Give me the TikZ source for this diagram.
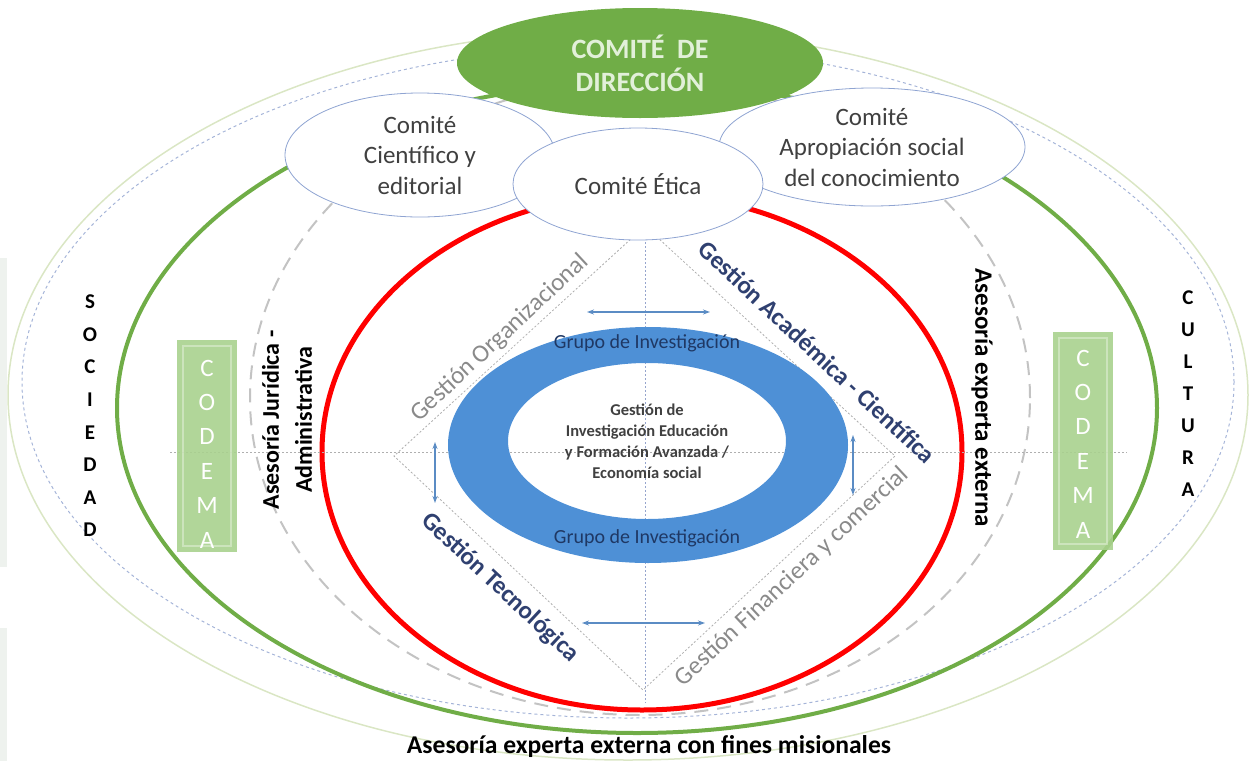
\documentclass[tikz,border=0pt]{standalone}
\usepackage{fontspec}
\setmainfont{Carlito}
\usetikzlibrary{shapes.geometric,arrows.meta}
\definecolor{dirgreen}{RGB}{112,173,71}
\definecolor{dirtext}{RGB}{226,240,217}
\definecolor{thickgreen}{RGB}{112,173,71}
\definecolor{faintgreen}{RGB}{218,230,196}
\definecolor{dotblue}{RGB}{165,180,216}
\definecolor{dashgray}{RGB}{195,195,195}
\definecolor{ringblue}{RGB}{78,144,214}
\definecolor{navy}{RGB}{47,64,112}
\definecolor{grupotext}{RGB}{31,56,100}
\definecolor{txtgray}{RGB}{64,64,64}
\definecolor{labgray}{RGB}{138,138,138}
\definecolor{arrowblue}{RGB}{91,140,196}
\definecolor{codemagreen}{RGB}{169,209,142}
\definecolor{comborder}{RGB}{143,164,210}
\definecolor{guidegray}{RGB}{175,175,175}
\definecolor{guideblue}{RGB}{150,165,205}
\definecolor{edgegray}{RGB}{238,242,238}
\tikzset{
  comnode/.style={ellipse, draw=comborder, line width=0.8pt, fill=white, inner sep=0pt,
    align=center, text=txtgray, font=\fontsize{25}{30.5}\selectfont},
  diaglab/.style={font=\fontsize{25}{30}\selectfont, inner sep=0pt},
  navylab/.style={diaglab, text=navy, font=\bfseries\fontsize{25}{30}\selectfont},
  graylab/.style={diaglab, text=labgray},
  codemabox/.style={rectangle, fill=codemagreen, fill opacity=0.9, minimum width=60pt, inner sep=0pt},
  codemaletters/.style={align=center, text=white, font=\fontsize{25}{34.4}\selectfont, inner sep=0pt},
  stacklet/.style={align=center, text=black, font=\bfseries\fontsize{21}{32.6}\selectfont, inner sep=0pt},
  biarrow/.style={arrowblue, line width=1.3pt, {Stealth[length=7pt,width=5pt]}-{Stealth[length=7pt,width=5pt]}},
  guideh/.style={guidegray, line width=0.8pt, dash pattern=on 2pt off 2pt},
  guidev/.style={guideblue, line width=0.8pt, dash pattern=on 2pt off 2pt},
  diamline/.style={guidegray, line width=0.8pt, dash pattern=on 2pt off 2pt}
}
\begin{document}
\begin{tikzpicture}[x=1pt,y=-1pt]
\useasboundingbox (0,0) rectangle (1251,761);
% left edge strips
\fill[edgegray] (0,258) rectangle (7,567);
\fill[edgegray] (0,628) rectangle (7,761);
% concentric ellipses
\draw[faintgreen, line width=1.5pt] (628,395) ellipse [x radius=620pt, y radius=365pt];
\draw[dotblue, line width=1pt, dash pattern=on 3pt off 3pt] (628,382) ellipse [x radius=606pt, y radius=336pt];
\draw[thickgreen, line width=4pt] (637,408) ellipse [x radius=520pt, y radius=325pt];
\draw[dashgray, line width=2pt, dash pattern=on 14pt off 9pt] (640,398) ellipse [x radius=390pt, y radius=317pt];
\draw[red, line width=5pt] (642,452) ellipse [x radius=320pt, y radius=258pt];
% guide lines
\coordinate (hl) at (170,452);
\coordinate (hr) at (1127,452);
\coordinate (vt) at (645,226);
\coordinate (vb) at (645,703);
\draw[guideh] (hl) -- (hr);
\draw[guidev] (vt) -- (vb);
% diamond
\coordinate (dT) at (645,226);
\coordinate (dR) at (895,456);
\coordinate (dB) at (643,690);
\coordinate (dL) at (394,456);
\draw[diamline] (dT) -- (dR) -- (dB) -- (dL) -- cycle;
% blue ring
\fill[ringblue, even odd rule] (648,445) ellipse [x radius=200pt, y radius=118pt]
  (647,441) ellipse [x radius=139pt, y radius=78pt];
\node[text=grupotext, font=\fontsize{20}{24}\selectfont, inner sep=0pt] (grupoT) at (647,343) {Grupo de Investigación};
\node[text=grupotext, font=\fontsize{20}{24}\selectfont, inner sep=0pt] (grupoB) at (647,538) {Grupo de Investigación};
\node[align=center, text=txtgray, font=\bfseries\fontsize{16.5}{21}\selectfont, inner sep=0pt] (core) at (647,441)
  {Gestión de\\Investigación Educación\\y Formación Avanzada /\\Economía social};
% arrows
\coordinate (aT1) at (587,312); \coordinate (aT2) at (710,312);
\coordinate (aB1) at (582,623); \coordinate (aB2) at (705,623);
\coordinate (aL1) at (435,442); \coordinate (aL2) at (435,503);
\coordinate (aR1) at (853,435); \coordinate (aR2) at (853,495);
\draw[biarrow] (aT1) -- (aT2);
\draw[biarrow] (aB1) -- (aB2);
\draw[biarrow] (aL1) -- (aL2);
\draw[biarrow] (aR1) -- (aR2);
% diagonal labels
\node[graylab, rotate=43] (gorg) at (500,338) {Gestión Organizacional};
\node[navylab, rotate=-43] (gaca) at (817,352) {Gestión Académica - Científica};
\node[navylab, rotate=-43] (gtec) at (500,588) {Gestión Tecnológica};
\node[graylab, rotate=43] (gfin) at (792,577) {Gestión Financiera y comercial};
% CODEMA boxes
\node[codemabox, minimum height=212pt] (codL) at (207,446) {};
\draw[white, opacity=0.35, line width=1.5pt] ([xshift=6pt,yshift=-6pt]codL.north west) rectangle ([xshift=-6pt,yshift=6pt]codL.south east);
\node[codemaletters] (codLt) at (207,454) {C\\O\\D\\E\\M\\A};
\node[codemabox, minimum height=218pt] (codR) at (1083,441) {};
\draw[white, opacity=0.35, line width=1.5pt] ([xshift=6pt,yshift=-6pt]codR.north west) rectangle ([xshift=-6pt,yshift=6pt]codR.south east);
\node[codemaletters] (codRt) at (1083,444) {C\\O\\D\\E\\M\\A};
% side words
\node[stacklet] (soc) at (90,416) {S\\O\\C\\I\\E\\D\\A\\D};
\node[stacklet, font=\bfseries\fontsize{21}{32}\selectfont] (cul) at (1188,394) {C\\U\\L\\T\\U\\R\\A};
% vertical advisory texts
\node[rotate=90, align=center, font=\bfseries\fontsize{24}{33}\selectfont, inner sep=0pt] (ajur) at (287,420)
  {Asesoría Jurídica -\\Administrativa};
\node[rotate=-90, font=\bfseries\fontsize{25}{30}\selectfont, inner sep=0pt] (aext) at (982,398)
  {Asesoría experta externa};
% caption
\node[anchor=base, font=\bfseries\fontsize{25.6}{30}\selectfont, inner sep=0pt] (capt) at (649,753)
  {Asesoría experta externa con fines misionales};
% committees
\node[comnode, minimum width=270pt, minimum height=124pt] (cie) at (420,155) {Comité\\Científico y\\editorial};
\node[comnode, minimum width=306pt, minimum height=118pt] (apr) at (872,147) {Comité\\Apropiación social\\del conocimiento};
\node[ellipse, fill=dirgreen, minimum width=366pt, minimum height=110pt, inner sep=0pt, align=center,
  text=dirtext, font=\bfseries\fontsize{28}{33}\selectfont] (dir) at (640,63) {COMITÉ\ \ DE\\DIRECCIÓN};
\node[comnode, minimum width=250pt, minimum height=112pt] (eti) at (638,184) {Comité Ética};
\end{tikzpicture}
\end{document}
